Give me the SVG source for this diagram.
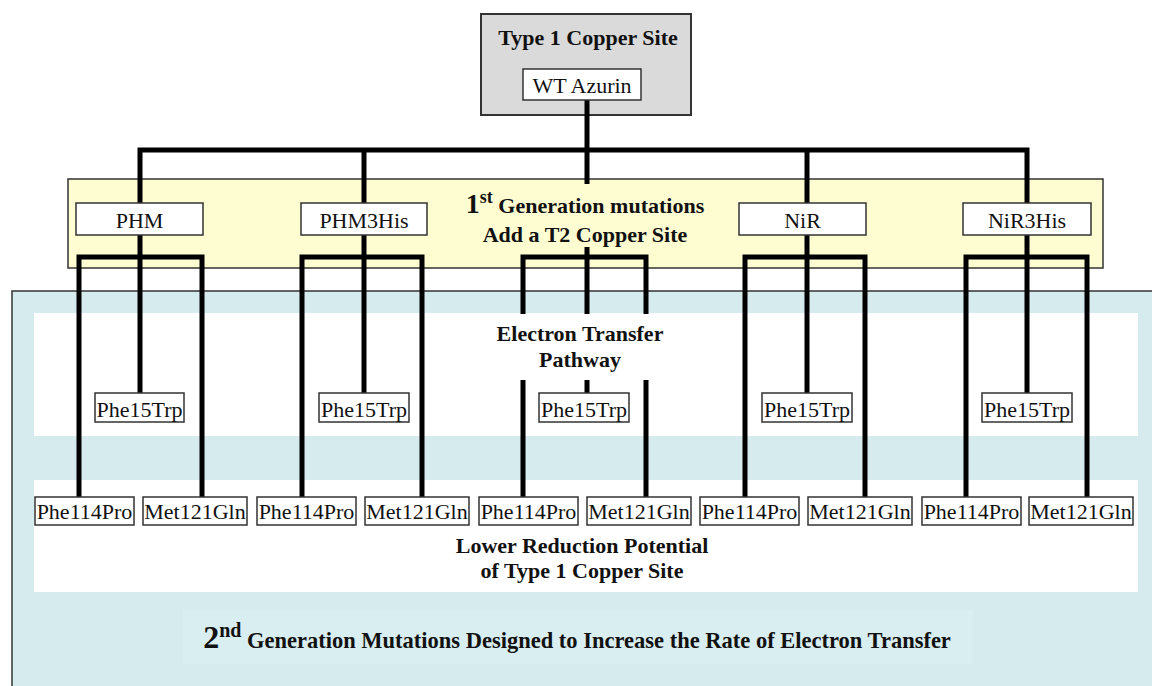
<svg xmlns="http://www.w3.org/2000/svg" width="1152" height="686" viewBox="0 0 1152 686">
  <style>
    .node rect { fill: #ffffff; stroke: #333333; stroke-width: 1.5; }
    .node text { font-family: "Liberation Serif", "Times New Roman", serif; font-size: 22px; fill: #111111; text-anchor: middle; }
    .title { font-family: "Liberation Serif", "Times New Roman", serif; font-size: 22px; font-weight: bold; fill: #111111; text-anchor: middle; }
    .wire { fill: none; stroke: #000000; stroke-width: 5; stroke-linejoin: miter; stroke-linecap: butt; }
  </style>

  <!-- second generation region -->
  <rect x="12" y="291" width="1145" height="400" fill="#d6ebee" stroke="#333333" stroke-width="1.5"/>
  <rect x="34" y="313" width="1104" height="123" fill="#ffffff"/>
  <rect x="34" y="480" width="1104" height="112" fill="#ffffff"/>
  <rect x="183" y="610" width="790" height="54" fill="#d9eef0"/>

  <!-- first generation band -->
  <rect x="68" y="179" width="1035" height="89" fill="#fefdd2" stroke="#333333" stroke-width="1.5"/>

  <!-- type 1 copper site frame -->
  <g id="type1-site">
    <rect x="481" y="14" width="210" height="101" fill="#dadada" stroke="#333333" stroke-width="2"/>
    <text class="title" x="588" y="45">Type 1 Copper Site</text>
  </g>

  <!-- connectors -->
  <g id="connectors">
    <path class="wire" d="M587,100 V150"/>
    <path class="wire" d="M140,203 V150 H1027 V203"/>
    <path class="wire" d="M364,150 V203"/>
    <path class="wire" d="M807,150 V203"/>
    <path class="wire" d="M587,150 V393"/>

    <path class="wire" d="M79,497 V257 H202 V497"/>
    <path class="wire" d="M140,235 V393"/>
    <path class="wire" d="M302,497 V257 H422 V497"/>
    <path class="wire" d="M364,235 V393"/>
    <path class="wire" d="M523,497 V257 H646 V497"/>
    <path class="wire" d="M745,497 V257 H865 V497"/>
    <path class="wire" d="M807,235 V393"/>
    <path class="wire" d="M966,497 V257 H1087 V497"/>
    <path class="wire" d="M1027,235 V393"/>
  </g>

  <!-- captions with their backgrounds -->
  <g id="first-gen-caption">
    <rect x="455" y="184" width="262" height="63" fill="#fefdd2"/>
    <text class="title" x="585" y="213"><tspan font-size="28">1</tspan><tspan font-size="18" dy="-10">st</tspan><tspan dy="10"> Generation mutations</tspan></text>
    <text class="title" x="585" y="242">Add a T2 Copper Site</text>
  </g>

  <g id="pathway-caption">
    <rect x="490" y="314" width="178" height="66" fill="#ffffff"/>
    <text class="title" x="580" y="341">Electron Transfer</text>
    <text class="title" x="580" y="367">Pathway</text>
  </g>

  <g id="reduction-caption">
    <text class="title" x="582" y="553">Lower Reduction Potential</text>
    <text class="title" x="582" y="578">of Type 1 Copper Site</text>
  </g>

  <g id="second-gen-caption">
    <text class="title" x="577" y="648"><tspan font-size="32">2</tspan><tspan font-size="20" dy="-11">nd</tspan><tspan dy="11" font-size="22.5"> Generation Mutations Designed to Increase the Rate of Electron Transfer</tspan></text>
  </g>

  <!-- wild type -->
  <g id="wt-azurin" class="node">
    <rect x="523" y="69" width="118" height="31"/>
    <text x="582" y="93">WT Azurin</text>
  </g>

  <!-- first generation mutants -->
  <g id="phm" class="node">
    <rect x="76" y="203" width="127" height="32"/>
    <text x="139.5" y="228">PHM</text>
  </g>
  <g id="phm3his" class="node">
    <rect x="301" y="203" width="126" height="32"/>
    <text x="364" y="228">PHM3His</text>
  </g>
  <g id="nir" class="node">
    <rect x="739" y="203" width="127" height="32"/>
    <text x="802.5" y="228">NiR</text>
  </g>
  <g id="nir3his" class="node">
    <rect x="963" y="203" width="128" height="32"/>
    <text x="1027" y="228">NiR3His</text>
  </g>

  <!-- pathway mutants -->
  <g id="phm-phe15trp" class="node">
    <rect x="95" y="393" width="89" height="29"/>
    <text x="139.5" y="417">Phe15Trp</text>
  </g>
  <g id="phm3his-phe15trp" class="node">
    <rect x="319" y="393" width="90" height="29"/>
    <text x="364" y="417">Phe15Trp</text>
  </g>
  <g id="t2-phe15trp" class="node">
    <rect x="539" y="393" width="90" height="29"/>
    <text x="584" y="417">Phe15Trp</text>
  </g>
  <g id="nir-phe15trp" class="node">
    <rect x="762" y="393" width="90" height="29"/>
    <text x="807" y="417">Phe15Trp</text>
  </g>
  <g id="nir3his-phe15trp" class="node">
    <rect x="982" y="393" width="90" height="29"/>
    <text x="1027" y="417">Phe15Trp</text>
  </g>

  <!-- reduction potential mutants -->
  <g id="phm-phe114pro" class="node">
    <rect x="35" y="497" width="99" height="28"/>
    <text x="84.5" y="519">Phe114Pro</text>
  </g>
  <g id="phm-met121gln" class="node">
    <rect x="143" y="497" width="104" height="28"/>
    <text x="195" y="519">Met121Gln</text>
  </g>
  <g id="phm3his-phe114pro" class="node">
    <rect x="257" y="497" width="99" height="28"/>
    <text x="306.5" y="519">Phe114Pro</text>
  </g>
  <g id="phm3his-met121gln" class="node">
    <rect x="365" y="497" width="104" height="28"/>
    <text x="417" y="519">Met121Gln</text>
  </g>
  <g id="t2-phe114pro" class="node">
    <rect x="479" y="497" width="99" height="28"/>
    <text x="528.5" y="519">Phe114Pro</text>
  </g>
  <g id="t2-met121gln" class="node">
    <rect x="587" y="497" width="104" height="28"/>
    <text x="639" y="519">Met121Gln</text>
  </g>
  <g id="nir-phe114pro" class="node">
    <rect x="700" y="497" width="99" height="28"/>
    <text x="749.5" y="519">Phe114Pro</text>
  </g>
  <g id="nir-met121gln" class="node">
    <rect x="808" y="497" width="104" height="28"/>
    <text x="860" y="519">Met121Gln</text>
  </g>
  <g id="nir3his-phe114pro" class="node">
    <rect x="922" y="497" width="99" height="28"/>
    <text x="971.5" y="519">Phe114Pro</text>
  </g>
  <g id="nir3his-met121gln" class="node">
    <rect x="1029" y="497" width="104" height="28"/>
    <text x="1081" y="519">Met121Gln</text>
  </g>
</svg>
